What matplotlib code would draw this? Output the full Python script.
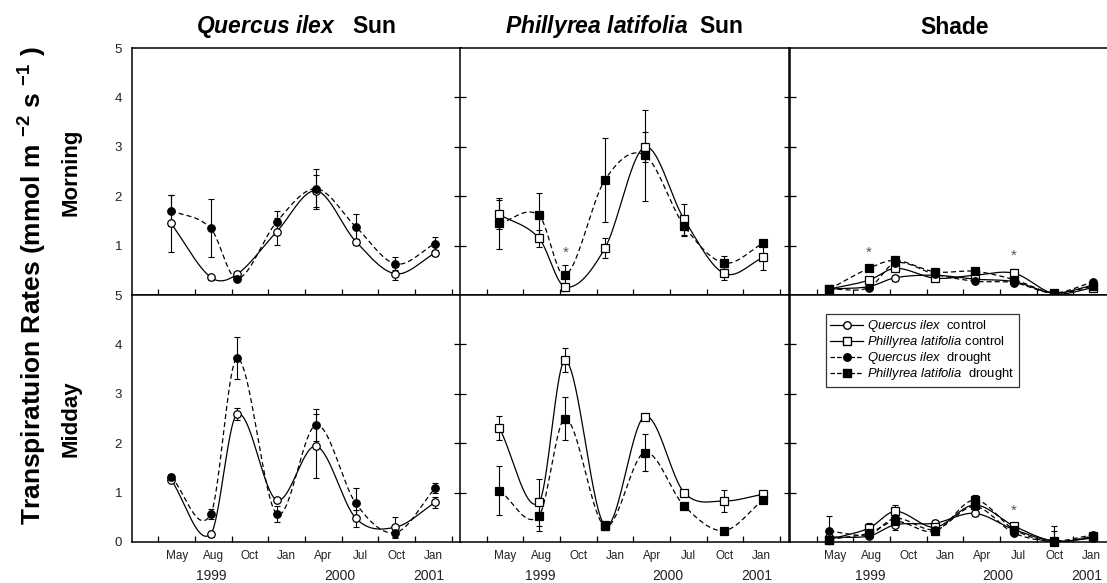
import numpy as np
import matplotlib
matplotlib.use("Agg")
import matplotlib.pyplot as plt
from matplotlib.lines import Line2D
from matplotlib import transforms

plt.rcParams['font.family'] = ['Liberation Sans', 'DejaVu Sans']
plt.rcParams['mathtext.fontset'] = 'custom'
plt.rcParams['mathtext.rm'] = 'Liberation Sans'
plt.rcParams['mathtext.it'] = 'Liberation Sans:italic'
plt.rcParams['mathtext.bf'] = 'Liberation Sans:bold'
plt.rcParams['mathtext.bfit'] = 'Liberation Sans:bold:italic'

# --- data: months since Jan 1999 ---
months = [4.5, 7.5, 9.5, 12.5, 15.5, 18.5, 21.5, 24.5]
month_labels = ["May", "Aug", "Oct", "Jan", "Apr", "Jul", "Oct", "Jan"]
years = ["1999", "2000", "2001"]
year_pos = [7.58, 17.28, 24.02]

# Morning, sun
qi_sun_am_ctrl = [1.45, 0.36, 0.42, 1.28, 2.11, 1.08, 0.43, 0.85]
qi_sun_am_ctrl_se = [0.57, 0.05, 0.05, 0.27, 0.32, 0.06, 0.13, 0.06]
qi_sun_am_drt = [1.71, 1.35, 0.33, 1.48, 2.15, 1.38, 0.63, 1.04]
qi_sun_am_drt_se = [0.31, 0.59, 0.03, 0.23, 0.40, 0.25, 0.13, 0.14]
pl_sun_am_ctrl = [1.63, 1.15, 0.16, 0.95, 2.99, 1.53, 0.44, 0.76]
pl_sun_am_ctrl_se = [0.30, 0.17, 0.08, 0.20, 0.30, 0.31, 0.14, 0.25]
pl_sun_am_drt = [1.45, 1.61, 0.40, 2.33, 2.83, 1.40, 0.65, 1.05]
pl_sun_am_drt_se = [0.52, 0.46, 0.20, 0.85, 0.92, 0.20, 0.13, 0.05]

# Morning, shade
qi_sh_am_ctrl = [0.12, 0.17, 0.35, 0.40, 0.32, 0.27, 0.04, 0.20]
qi_sh_am_ctrl_se = [0.03, 0.04, 0.06, 0.04, 0.04, 0.04, 0.03, 0.03]
pl_sh_am_ctrl = [0.12, 0.30, 0.54, 0.34, 0.40, 0.44, 0.03, 0.15]
pl_sh_am_ctrl_se = [0.03, 0.05, 0.05, 0.04, 0.04, 0.09, 0.03, 0.03]
qi_sh_am_drt = [0.12, 0.15, 0.65, 0.42, 0.28, 0.25, 0.04, 0.27]
qi_sh_am_drt_se = [0.03, 0.03, 0.06, 0.04, 0.03, 0.05, 0.03, 0.04]
pl_sh_am_drt = [0.12, 0.54, 0.70, 0.47, 0.48, 0.31, 0.04, 0.18]
pl_sh_am_drt_se = [0.03, 0.05, 0.06, 0.04, 0.04, 0.05, 0.03, 0.03]

# Midday, sun
qi_sun_md_ctrl = [1.26, 0.16, 2.59, 0.85, 1.94, 0.48, 0.30, 0.80]
qi_sun_md_ctrl_se = [0.05, 0.05, 0.12, 0.05, 0.65, 0.17, 0.21, 0.12]
qi_sun_md_drt = [1.32, 0.56, 3.72, 0.57, 2.37, 0.78, 0.19, 1.09]
qi_sun_md_drt_se = [0.05, 0.10, 0.43, 0.16, 0.32, 0.31, 0.08, 0.10]
pl_sun_md_ctrl = [2.31, 0.80, 3.68, 0.34, 2.54, 1.00, 0.83, 0.97]
pl_sun_md_ctrl_se = [0.25, 0.48, 0.24, 0.07, 0.05, 0.05, 0.22, 0.05]
pl_sun_md_drt = [1.04, 0.53, 2.50, 0.32, 1.81, 0.73, 0.23, 0.86]
pl_sun_md_drt_se = [0.49, 0.30, 0.43, 0.07, 0.38, 0.05, 0.05, 0.05]

# Midday, shade
qi_sh_md_ctrl = [0.10, 0.12, 0.35, 0.38, 0.58, 0.25, 0.02, 0.08]
qi_sh_md_ctrl_se = [0.04, 0.03, 0.10, 0.06, 0.05, 0.04, 0.03, 0.03]
pl_sh_md_ctrl = [0.05, 0.28, 0.62, 0.30, 0.75, 0.32, 0.02, 0.10]
pl_sh_md_ctrl_se = [0.03, 0.10, 0.12, 0.04, 0.05, 0.05, 0.03, 0.03]
qi_sh_md_drt = [0.22, 0.15, 0.48, 0.25, 0.72, 0.18, 0.02, 0.15]
qi_sh_md_drt_se = [0.30, 0.04, 0.06, 0.04, 0.06, 0.04, 0.20, 0.04]
pl_sh_md_drt = [0.05, 0.18, 0.42, 0.22, 0.85, 0.25, 0.00, 0.12]
pl_sh_md_drt_se = [0.03, 0.05, 0.06, 0.04, 0.10, 0.04, 0.32, 0.04]

# significant differences: (row, col, month index)
stars = [(0, 1, 2), (0, 2, 1), (0, 2, 5), (1, 2, 5)]


def smooth_curve(x, y, per_seg=60):
    # cubic Hermite through the points, Catmull-Rom style tangents
    x = np.asarray(x, float); y = np.asarray(y, float)
    m = np.empty_like(y)
    m[1:-1] = (y[2:] - y[:-2]) / (x[2:] - x[:-2])
    m[0] = (y[1] - y[0]) / (x[1] - x[0])
    m[-1] = (y[-1] - y[-2]) / (x[-1] - x[-2])
    xs, ys = [], []
    for i in range(len(x) - 1):
        h = x[i + 1] - x[i]
        t = np.linspace(0, 1, per_seg, endpoint=(i == len(x) - 2))
        h00 = 2 * t**3 - 3 * t**2 + 1
        h10 = t**3 - 2 * t**2 + t
        h01 = -2 * t**3 + 3 * t**2
        h11 = t**3 - t**2
        xs.append(x[i] + t * h)
        ys.append(h00 * y[i] + h10 * h * m[i] + h01 * y[i + 1] + h11 * h * m[i + 1])
    return np.concatenate(xs), np.concatenate(ys)


styles = {
    'qi_ctrl': dict(marker='o', mfc='white', ls='-'),
    'pl_ctrl': dict(marker='s', mfc='white', ls='-'),
    'qi_drt': dict(marker='o', mfc='black', ls='--'),
    'pl_drt': dict(marker='s', mfc='black', ls='--'),
}

panels = {
    (0, 0): [('qi_ctrl', qi_sun_am_ctrl, qi_sun_am_ctrl_se), ('qi_drt', qi_sun_am_drt, qi_sun_am_drt_se)],
    (0, 1): [('pl_ctrl', pl_sun_am_ctrl, pl_sun_am_ctrl_se), ('pl_drt', pl_sun_am_drt, pl_sun_am_drt_se)],
    (0, 2): [('qi_ctrl', qi_sh_am_ctrl, qi_sh_am_ctrl_se), ('pl_ctrl', pl_sh_am_ctrl, pl_sh_am_ctrl_se),
             ('qi_drt', qi_sh_am_drt, qi_sh_am_drt_se), ('pl_drt', pl_sh_am_drt, pl_sh_am_drt_se)],
    (1, 0): [('qi_ctrl', qi_sun_md_ctrl, qi_sun_md_ctrl_se), ('qi_drt', qi_sun_md_drt, qi_sun_md_drt_se)],
    (1, 1): [('pl_ctrl', pl_sun_md_ctrl, pl_sun_md_ctrl_se), ('pl_drt', pl_sun_md_drt, pl_sun_md_drt_se)],
    (1, 2): [('qi_ctrl', qi_sh_md_ctrl, qi_sh_md_ctrl_se), ('pl_ctrl', pl_sh_md_ctrl, pl_sh_md_ctrl_se),
             ('qi_drt', qi_sh_md_drt, qi_sh_md_drt_se), ('pl_drt', pl_sh_md_drt, pl_sh_md_drt_se)],
}

W, H = 1107, 583
fig = plt.figure(figsize=(W / 100, H / 100), dpi=100)

col_x = [131.7, 460, 790]
row_y = [48, 295]
pw, ph = 329, 247
xlim = (1.52, 26.44)
major = 3.54 + 2.778 * np.arange(9)
minor = major[:-1] + 2.778 / 2

axes = {}
for r in range(2):
    for c in range(3):
        ax = fig.add_axes([col_x[c] / W, 1 - (row_y[r] + ph) / H, pw / W, ph / H])
        axes[(r, c)] = ax
        ax.set_xlim(*xlim); ax.set_ylim(0, 5)
        for s in ax.spines.values():
            s.set_linewidth(1.1)
        ax.set_xticks(major)
        ax.set_xticklabels([])
        ax.tick_params(axis='x', which='major', direction='in', length=4, width=0.9)
        if r == 1:
            ax.set_xticks(minor, minor=True)
            ax.set_xticklabels(month_labels, minor=True, fontsize=8.5, color='#222')
            ax.tick_params(axis='x', which='minor', length=0, pad=6)
            tr = transforms.blended_transform_factory(ax.transData, ax.transAxes)
            for yl, xp in zip(years, year_pos):
                ax.text(xp, -0.137, yl, transform=tr, ha='center', va='center', fontsize=10, color='#222')
        if c == 0:
            ax.set_yticks([0, 1, 2, 3, 4, 5] if r == 1 else [1, 2, 3, 4, 5])
            ax.tick_params(axis='y', length=0, pad=7, labelsize=9.5, labelcolor='#222')
        else:
            ax.set_yticks([1, 2, 3, 4])
            ax.set_yticklabels([])
            ax.tick_params(axis='y', direction='inout', length=9, width=0.9)

        for key, vals, se in panels[(r, c)]:
            st = styles[key]
            xs, ys = smooth_curve(months, vals)
            ax.plot(xs, ys, color='black', lw=0.9, ls=st['ls'], zorder=2,
                    dashes=(4, 2.5) if st['ls'] == '--' else (None, None))
            ax.errorbar(months, vals, yerr=se, fmt='none', ecolor='black', elinewidth=0.8,
                        capsize=2.2, capthick=0.8, zorder=3)
            ax.plot(months, vals, ls='none', marker=st['marker'], mfc=st['mfc'], mec='black',
                    mew=0.9, ms=5.4 if st['marker'] == 'o' else 5.8, zorder=4, clip_on=False)

for r, c, i in stars:
    top = max(v[i] + e[i] for _, v, e in panels[(r, c)])
    axes[(r, c)].text(months[i], top + 0.12, '*', ha='center', va='bottom', fontsize=11, color='#555')

# column titles
titles = [r"$\mathbfit{Quercus\ ilex}$   Sun", r"$\mathbfit{Phillyrea\ latifolia}$  Sun", "Shade"]
for c, t in enumerate(titles):
    fig.text((col_x[c] + pw / 2) / W, 1 - 27 / H, t, ha='center', va='center',
             fontsize=16.5, fontweight='bold')

# row labels and shared y label
fig.text(71 / W, 1 - 172 / H, "Morning", rotation=90, ha='center', va='center',
         fontsize=16, fontweight='bold')
fig.text(71 / W, 1 - 419 / H, "Midday", rotation=90, ha='center', va='center',
         fontsize=16, fontweight='bold')
fig.text(33 / W, 1 - 286 / H,
         r"Transpiratuion Rates (mmol m $^{\mathbf{-2}}$ s $^{\mathbf{-1}}$ )",
         rotation=90, ha='center', va='center', fontsize=19, fontweight='bold')

# legend
handles = [
    Line2D([], [], color='black', lw=0.9, ls='-', marker='o', mfc='white', mec='black', ms=5.4),
    Line2D([], [], color='black', lw=0.9, ls='-', marker='s', mfc='white', mec='black', ms=5.8),
    Line2D([], [], color='black', lw=0.9, ls='--', marker='o', mfc='black', mec='black', ms=5.4),
    Line2D([], [], color='black', lw=0.9, ls='--', marker='s', mfc='black', mec='black', ms=5.8),
]
labels = [r"$\mathit{Quercus\ ilex}$  control", r"$\mathit{Phillyrea\ latifolia}$ control",
          r"$\mathit{Quercus\ ilex}$  drought", r"$\mathit{Phillyrea\ latifolia}$  drought"]
leg = axes[(1, 2)].legend(handles, labels, loc='upper left', bbox_to_anchor=(0.109, 0.925),
                          fontsize=9.4, frameon=True, fancybox=False, handlelength=2.5,
                          handletextpad=0.3, labelspacing=0.0, borderpad=0.35,
                          borderaxespad=0)
leg.get_frame().set_edgecolor('black')
leg.get_frame().set_linewidth(0.9)

fig.savefig("out.png", dpi=100)
